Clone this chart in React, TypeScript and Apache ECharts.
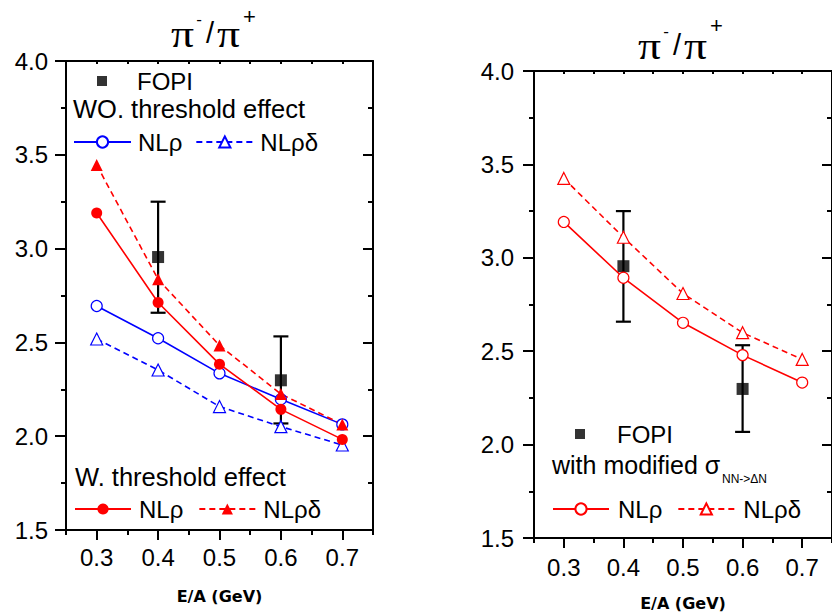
import React, { useEffect, useRef } from 'react';
import * as echarts from 'echarts';

// ---- data ----
const energies = [0.3, 0.4, 0.5, 0.6, 0.7];
const xTickValues = [0.3, 0.4, 0.5, 0.6, 0.7];
const fopiEnergies = [0.4, 0.6];
const fopiRatio = [2.955, 2.298];
const fopiLow = [2.658, 2.068];
const fopiHigh = [3.25, 2.532];

// left panel: without threshold effect (blue), with threshold effect (red)
const woNLrho = [2.694, 2.522, 2.335, 2.197, 2.063];
const woNLrhoDelta = [2.518, 2.353, 2.158, 2.051, 1.953];
const wNLrho = [3.19, 2.713, 2.384, 2.143, 1.983];
const wNLrhoDelta = [3.446, 2.836, 2.484, 2.225, 2.063];

// right panel: with modified sigma
const modNLrho = [3.192, 2.893, 2.652, 2.479, 2.332];
const modNLrhoDelta = [3.425, 3.11, 2.809, 2.599, 2.456];

const SANS = '"Liberation Sans", Arial, sans-serif';
const SERIF = '"Liberation Serif", "Times New Roman", serif';
const RED = '#ff0000';
const BLUE = '#0000ff';

const pts = (ys: number[]) => energies.map((e, i) => [e, ys[i]]);

function axesFor(gi: number, yLabelMargin: number, xLabelMargin: number, nameGap: number) {
  const line = { show: true, onZero: false, lineStyle: { color: '#000', width: 2 } };
  const tick = (len: number, inside: boolean) => ({
    show: true, length: len, inside, lineStyle: { color: '#000', width: 2 },
  });
  const xs = [
    {
      gridIndex: gi, type: 'value', position: 'bottom', min: 0.25, max: 0.75, interval: 0.05,
      axisLine: line, axisTick: tick(5, false), axisLabel: { show: false }, splitLine: { show: false },
    },
    {
      gridIndex: gi, type: 'value', position: 'bottom', min: 0.25, max: 0.75,
      axisLine: { show: false, onZero: false },
      axisTick: { ...tick(10, false), customValues: xTickValues },
      axisLabel: {
        show: true, customValues: xTickValues, margin: xLabelMargin,
        formatter: (v: number) => v.toFixed(1), fontSize: 24, color: '#000', fontFamily: SANS,
      },
      splitLine: { show: false },
      name: 'E/A (GeV)', nameLocation: 'middle', nameGap,
      nameTextStyle: { fontFamily: '"DejaVu Sans", sans-serif', fontWeight: 'bold', fontSize: 16, color: '#000' },
    },
    {
      gridIndex: gi, type: 'value', position: 'top', min: 0.25, max: 0.75, interval: 0.05,
      axisLine: line, axisTick: tick(3, true), axisLabel: { show: false }, splitLine: { show: false },
    },
  ];
  const ys = [
    {
      gridIndex: gi, type: 'value', position: 'left', min: 1.5, max: 4.0, interval: 0.25,
      axisLine: line, axisTick: tick(5, false), axisLabel: { show: false }, splitLine: { show: false },
    },
    {
      gridIndex: gi, type: 'value', position: 'left', min: 1.5, max: 4.0, interval: 0.5,
      axisLine: { show: false, onZero: false }, axisTick: tick(11, false),
      axisLabel: {
        show: true, margin: yLabelMargin, formatter: (v: number) => v.toFixed(1),
        fontSize: 24, color: '#000', fontFamily: SANS,
      },
      splitLine: { show: false },
    },
    {
      gridIndex: gi, type: 'value', position: 'right', min: 1.5, max: 4.0, interval: 0.25,
      axisLine: line, axisTick: tick(5, true), axisLabel: { show: false }, splitLine: { show: false },
    },
    {
      gridIndex: gi, type: 'value', position: 'right', min: 1.5, max: 4.0, interval: 0.5,
      axisLine: { show: false, onZero: false }, axisTick: tick(10, true), axisLabel: { show: false },
      splitLine: { show: false },
    },
  ];
  return { xs, ys };
}

function errorBars(xi: number, yi: number) {
  return {
    type: 'custom', name: 'FOPI error', xAxisIndex: xi, yAxisIndex: yi, z: 1,
    data: fopiEnergies.map((e, i) => [e, fopiLow[i], fopiHigh[i]]),
    encode: { x: 0, y: [1, 2] },
    renderItem: (_p: any, api: any) => {
      const x = api.value(0);
      const lo = api.coord([x, api.value(1)]);
      const hi = api.coord([x, api.value(2)]);
      const hw = 7.5;
      const st = { stroke: '#000', lineWidth: 2.2 };
      return {
        type: 'group',
        children: [
          { type: 'line', shape: { x1: lo[0], y1: lo[1], x2: hi[0], y2: hi[1] }, style: st },
          { type: 'line', shape: { x1: lo[0] - hw, y1: lo[1], x2: lo[0] + hw, y2: lo[1] }, style: st },
          { type: 'line', shape: { x1: hi[0] - hw, y1: hi[1], x2: hi[0] + hw, y2: hi[1] }, style: st },
        ],
      };
    },
  };
}

function fopi(name: string, xi: number, yi: number) {
  return {
    type: 'scatter', name, xAxisIndex: xi, yAxisIndex: yi, z: 2,
    symbol: 'rect', symbolSize: 12, itemStyle: { color: '#000' },
    data: fopiEnergies.map((e, i) => [e, fopiRatio[i]]),
  };
}

function curve(name: string, ys: number[], xi: number, yi: number, color: string,
  symbol: string, filled: boolean, dashed: boolean) {
  return {
    type: 'line', name, xAxisIndex: xi, yAxisIndex: yi, z: 3,
    data: pts(ys), symbol, symbolSize: symbol === 'triangle' ? 12 : 11, showSymbol: true,
    lineStyle: { color, width: 1.6, type: dashed ? [6, 4] : 'solid' },
    itemStyle: filled ? { color, borderColor: color, borderWidth: 0 } : { color: '#ffffff', borderColor: color, borderWidth: 1.2 },
  };
}

function txt(text: string, x: number, y: number, fontSize: number, opts: any = {}) {
  return {
    type: 'text', x, y, silent: true, scaleX: opts.scaleX || 1,
    style: {
      text, fontSize, fontFamily: opts.family || SANS, fontWeight: opts.weight || 'normal',
      fill: '#000', align: opts.align || 'left', verticalAlign: 'middle',
      textAlign: opts.align || 'left', textVerticalAlign: 'middle',
    },
  };
}

function titleParts(dx: number, dy: number, plusDy: number) {
  return [
    txt('π', 171 + dx, 34 + dy, 38, { family: SERIF, scaleX: 1.2 }),
    txt('-', 199 + dx, 19 + dy, 17, { align: 'center' }),
    txt('/', 210 + dx, 33 + dy, 29, { align: 'center' }),
    txt('π', 217 + dx, 34 + dy, 38, { family: SERIF, scaleX: 1.2 }),
    txt('+', 249.5 + dx, 16.5 + dy + plusDy, 22, { align: 'center' }),
  ];
}

const stripName = (n: string) => n.split('_')[0];

export default function App() {
  const ref = useRef<HTMLDivElement>(null);
  useEffect(() => {
    if (!ref.current) return;
    const chart = echarts.init(ref.current, null, { renderer: 'svg' });
    const a0 = axesFor(0, 18, 15, 58);
    const a1 = axesFor(1, 20, 17, 57);
    const legendText = (padLeft: number, padBottom: number) => ({
      fontFamily: SANS, fontSize: 24, color: '#000', padding: [0, 0, padBottom, padLeft],
    });
    const option: any = {
      animation: false,
      backgroundColor: '#ffffff',
      grid: [
        { left: 66, top: 61, width: 307, height: 469 },
        { left: 534, top: 71, width: 307, height: 468 },
      ],
      xAxis: [...a0.xs, ...a1.xs],
      yAxis: [...a0.ys, ...a1.ys],
      legend: [
        {
          left: 97, top: 69, padding: 0, itemWidth: 10, itemHeight: 10, selectedMode: false,
          data: [{ name: 'FOPI_L', icon: 'rect' }], formatter: stripName, textStyle: legendText(25, 2),
        },
        {
          left: 73, top: 130, padding: 0, itemWidth: 57, itemHeight: 14, itemGap: 13, selectedMode: false,
          data: ['NLρ_WO', 'NLρδ_WO'], formatter: stripName, textStyle: legendText(2, 6),
        },
        {
          left: 74, top: 497, padding: 0, itemWidth: 56, itemHeight: 14, itemGap: 15, selectedMode: false,
          data: ['NLρ_W', 'NLρδ_W'], formatter: stripName, textStyle: legendText(3, 6),
        },
        {
          left: 575, top: 422, padding: 0, itemWidth: 10, itemHeight: 10, selectedMode: false,
          data: [{ name: 'FOPI_R', icon: 'rect' }], formatter: stripName, textStyle: legendText(27, 2),
        },
        {
          left: 552, top: 497, padding: 0, itemWidth: 56, itemHeight: 14, itemGap: 15, selectedMode: false,
          data: ['NLρ_M', 'NLρδ_M'], formatter: stripName, textStyle: legendText(4, 3),
        },
      ],
      series: [
        errorBars(0, 0),
        fopi('FOPI_L', 0, 0),
        curve('NLρ_WO', woNLrho, 0, 0, BLUE, 'circle', false, false),
        curve('NLρδ_WO', woNLrhoDelta, 0, 0, BLUE, 'triangle', false, true),
        curve('NLρ_W', wNLrho, 0, 0, RED, 'circle', true, false),
        curve('NLρδ_W', wNLrhoDelta, 0, 0, RED, 'triangle', true, true),
        errorBars(3, 4),
        fopi('FOPI_R', 3, 4),
        curve('NLρ_M', modNLrho, 3, 4, RED, 'circle', false, false),
        curve('NLρδ_M', modNLrhoDelta, 3, 4, RED, 'triangle', false, true),
      ],
      graphic: [
        ...titleParts(0, 0, 0),
        ...titleParts(467, 12, -3),
        txt('WO. threshold effect', 73, 109, 25.5),
        txt('W. threshold effect', 75, 477, 25.5),
        txt('with modified σ', 552, 465, 25),
        txt('NN->ΔN', 722, 479, 12),
      ],
    };
    chart.setOption(option);
    return () => chart.dispose();
  }, []);
  return (
    <div
      ref={ref}
      style={{ position: 'absolute', left: 0, top: 0, width: 832, height: 616, background: '#fff' }}
    />
  );
}
